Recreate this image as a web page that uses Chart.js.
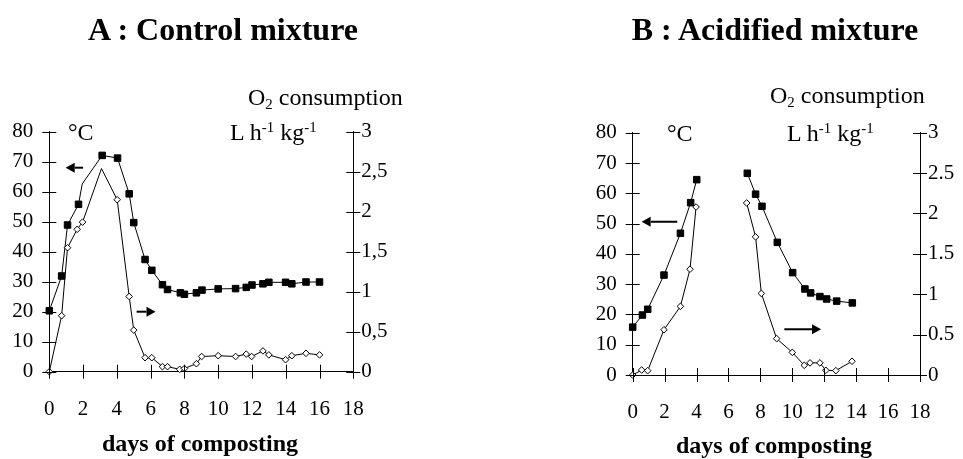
<!DOCTYPE html>
<html>
<head>
<meta charset="utf-8">
<script src="https://cdn.jsdelivr.net/npm/chart.js@4/dist/chart.umd.min.js"></script>
<style>
  html, body { margin:0; padding:0; background:#fff; }
  body { width:963px; height:459px; position:relative; overflow:hidden; font-family:"Liberation Serif","Times New Roman",serif; color:#000; }
  .pane { position:absolute; top:0; }
  .t { position:absolute; line-height:1; white-space:nowrap; }
  .c { text-align:center; width:400px; }
  .b { font-weight:bold; }
  sup, sub { font-size:0.62em; line-height:0; position:relative; vertical-align:baseline; }
  sup { top:-0.55em; }
  sub { top:0.3em; }
</style>
</head>
<body>
<div class="pane" style="left:0;width:480px;height:459px"><canvas id="cA" width="480" height="459"></canvas></div>
<div class="pane" style="left:480px;width:483px;height:459px"><canvas id="cB" width="483" height="459"></canvas></div>

<div class="t c b" style="left:23px;top:13px;font-size:32px">A : Control mixture</div>
<div class="t c b" style="left:575px;top:13px;font-size:32px">B : Acidified mixture</div>

<div class="t" style="left:248px;top:85px;font-size:24px">O<sub>2</sub> consumption</div>
<div class="t" style="left:230px;top:120px;font-size:24px">L h<sup>-1</sup> kg<sup>-1</sup></div>
<div class="t" style="left:68px;top:120px;font-size:24px">°C</div>

<div class="t" style="left:770px;top:83px;font-size:24px">O<sub>2</sub> consumption</div>
<div class="t" style="left:787px;top:121px;font-size:24px">L h<sup>-1</sup> kg<sup>-1</sup></div>
<div class="t" style="left:667px;top:121px;font-size:24px">°C</div>

<div class="t c b" style="left:0px;top:431px;font-size:24px">days of composting</div>
<div class="t c b" style="left:574px;top:433px;font-size:24px">days of composting</div>

<script>
// ---------- DATA ----------
const dayTicks = [0, 2, 4, 6, 8, 10, 12, 14, 16, 18];
const tempTicks = [0, 10, 20, 30, 40, 50, 60, 70, 80];
const o2Ticks = [0, 0.5, 1, 1.5, 2, 2.5, 3];
const o2TickLabelsA = ['0', '0,5', '1', '1,5', '2', '2,5', '3'];
const o2TickLabelsB = ['0', '0.5', '1', '1.5', '2', '2.5', '3'];

// Panel A : Control mixture
const tempDaysA = [0, 0.73, 1.08, 1.73, 1.95, 3.13, 4.04, 4.73, 5.0, 5.67, 6.07, 6.70, 7.0, 7.76, 8.0, 8.71, 9.04, 10.0, 11.03, 11.66, 12.0, 12.65, 13.0, 13.99, 14.36, 15.2, 16.0];
const tempA = [20.3, 31.9, 48.9, 55.8, 62.6, 72.1, 71.2, 59.3, 49.7, 37.4, 33.8, 29.0, 27.4, 26.3, 25.8, 26.3, 27.2, 27.6, 27.7, 28.1, 28.9, 29.3, 29.8, 29.8, 29.3, 29.9, 29.9];
const o2DaysA = [0, 0.73, 1.08, 1.65, 1.97, 3.09, 4.02, 4.73, 5.0, 5.67, 6.07, 6.70, 7.0, 7.72, 8.0, 8.71, 9.02, 10.0, 11.03, 11.66, 11.98, 12.65, 13.0, 13.99, 14.36, 15.2, 16.0];
const o2A = [0, 0.70, 1.55, 1.78, 1.87, 2.54, 2.15, 0.94, 0.52, 0.175, 0.175, 0.063, 0.063, 0.03, 0.04, 0.10, 0.19, 0.20, 0.19, 0.22, 0.19, 0.26, 0.21, 0.15, 0.20, 0.23, 0.21];
const unmarkedTempA = [4];
const unmarkedO2A = [5];

// Panel B : Acidified mixture (null = gap in measurements)
const tempDaysB = [0, 0.61, 0.94, 1.96, 2.99, 3.63, 4.01, 5.5, 7.18, 7.70, 8.10, 9.06, 10.02, 10.79, 11.15, 11.73, 12.15, 12.78, 13.76];
const tempB = [15.8, 19.8, 21.7, 33.0, 46.8, 56.9, 64.5, null, 66.6, 59.7, 55.7, 43.8, 33.8, 28.4, 27.1, 25.9, 25.1, 24.4, 23.8];
const o2DaysB = [0, 0.56, 0.94, 1.96, 2.99, 3.59, 3.97, 5.5, 7.14, 7.70, 8.06, 9.02, 10.0, 10.75, 11.11, 11.73, 12.1, 12.73, 13.74];
const o2B = [0, 0.062, 0.054, 0.56, 0.85, 1.31, 2.08, null, 2.13, 1.71, 1.01, 0.45, 0.28, 0.12, 0.15, 0.15, 0.058, 0.054, 0.17];

// Arrow annotations (data units: day, °C)
const arrowsA = [
  { from: [2.0, 68], to: [0.97, 68] },
  { from: [5.17, 20], to: [6.29, 20] }
];
const arrowsB = [
  { from: [2.79, 50.6], to: [0.56, 50.6] },
  { from: [9.5, 15.1], to: [11.8, 15.1] }
];

// ---------- DRAWING ----------
const FONT = "'Liberation Serif', 'Times New Roman', serif";

function pts(xs, ys) { return xs.map((x, i) => ({ x: x, y: ys[i] })); }

const crossTicks = {
  id: 'crossTicks',
  afterDraw(chart) {
    const ctx = chart.ctx, a = chart.chartArea, L = 7;
    ctx.save();
    ctx.strokeStyle = '#000';
    ctx.lineWidth = 1;
    ctx.beginPath();
    const sx = chart.scales.x;
    sx.ticks.forEach(t => {
      const p = Math.round(sx.getPixelForValue(t.value)) + 0.5;
      ctx.moveTo(p, a.bottom - L); ctx.lineTo(p, a.bottom + L);
    });
    const yl = chart.scales.yT;
    yl.ticks.forEach(t => {
      const p = Math.round(yl.getPixelForValue(t.value)) + 0.5;
      ctx.moveTo(a.left - L, p); ctx.lineTo(a.left + L, p);
    });
    const yr = chart.scales.yO;
    yr.ticks.forEach(t => {
      const p = Math.round(yr.getPixelForValue(t.value)) + 0.5;
      ctx.moveTo(a.right - L, p); ctx.lineTo(a.right + L, p);
    });
    ctx.stroke();
    // arrows
    const arrows = chart.options.plugins.crossTicks.arrows || [];
    ctx.fillStyle = '#000';
    ctx.lineWidth = 2;
    arrows.forEach(ar => {
      const x1 = sx.getPixelForValue(ar.from[0]), x2 = sx.getPixelForValue(ar.to[0]);
      const y = yl.getPixelForValue(ar.from[1]);
      const dir = x2 > x1 ? 1 : -1, head = 9, hh = 5;
      ctx.beginPath();
      ctx.moveTo(x1, y); ctx.lineTo(x2 - dir * head, y);
      ctx.stroke();
      ctx.beginPath();
      ctx.moveTo(x2, y);
      ctx.lineTo(x2 - dir * head, y - hh);
      ctx.lineTo(x2 - dir * head, y + hh);
      ctx.closePath();
      ctx.fill();
    });
    ctx.restore();
  }
};

function makePanel(id, opt) {
  const tempData = pts(opt.tDays, opt.temp);
  const o2Data = pts(opt.oDays, opt.o2);
  return new Chart(document.getElementById(id), {
    type: 'scatter',
    data: {
      datasets: [
        {
          data: o2Data, yAxisID: 'yO', showLine: true, spanGaps: false,
          borderColor: '#000', borderWidth: 1,
          pointStyle: 'rectRot', pointBackgroundColor: '#fff', pointBorderColor: '#000', pointBorderWidth: 1,
          pointRadius: c => opt.unmarkedO2.includes(c.dataIndex) ? 0 : 3.3,
          clip: false
        },
        {
          data: tempData, yAxisID: 'yT', showLine: true, spanGaps: false,
          borderColor: '#000', borderWidth: 1,
          pointStyle: 'rect', pointBackgroundColor: '#000', pointBorderColor: '#000', pointBorderWidth: 1,
          pointRadius: c => opt.unmarkedT.includes(c.dataIndex) ? 0 : 4.6,
          clip: false
        }
      ]
    },
    options: {
      responsive: false,
      animation: false,
      devicePixelRatio: 1,
      layout: { padding: { top: opt.top, left: 0, right: 0, bottom: 0 } },
      plugins: { legend: { display: false }, tooltip: { enabled: false }, crossTicks: { arrows: opt.arrows } },
      scales: {
        x: {
          type: 'linear', min: 0, max: 18,
          afterBuildTicks: s => { s.ticks = dayTicks.map(v => ({ value: v })); },
          afterFit: s => { s.height = opt.xH; },
          grid: { display: false, drawTicks: false },
          border: { display: true, color: '#000', width: 1 },
          ticks: { color: '#000', font: { family: FONT, size: 21 }, padding: 25, maxRotation: 0, autoSkip: false }
        },
        yT: {
          type: 'linear', position: 'left', min: 0, max: 80,
          afterBuildTicks: s => { s.ticks = tempTicks.map(v => ({ value: v })); },
          afterFit: s => { s.width = opt.leftW; },
          grid: { display: false, drawTicks: false },
          border: { display: true, color: '#000', width: 1 },
          ticks: { color: '#000', font: { family: FONT, size: 21 }, padding: 16, autoSkip: false }
        },
        yO: {
          type: 'linear', position: 'right', min: 0, max: 3,
          afterBuildTicks: s => { s.ticks = o2Ticks.map(v => ({ value: v })); },
          afterFit: s => { s.width = opt.rightW; },
          grid: { display: false, drawTicks: false },
          border: { display: true, color: '#000', width: 1 },
          ticks: { color: '#000', font: { family: FONT, size: 21 }, padding: 8, autoSkip: false,
                   callback: (v, i) => opt.o2Labels[i] }
        }
      }
    },
    plugins: [crossTicks]
  });
}

makePanel('cA', {
  tDays: tempDaysA, temp: tempA, oDays: o2DaysA, o2: o2A,
  unmarkedT: unmarkedTempA, unmarkedO2: unmarkedO2A,
  arrows: arrowsA, o2Labels: o2TickLabelsA,
  top: 131.7, xH: 459 - 371.7, leftW: 49.3, rightW: 480 - 353.3
});
makePanel('cB', {
  tDays: tempDaysB, temp: tempB, oDays: o2DaysB, o2: o2B,
  unmarkedT: [], unmarkedO2: [],
  arrows: arrowsB, o2Labels: o2TickLabelsB,
  top: 132.7, xH: 459 - 375, leftW: 632.7 - 480, rightW: 963 - 920
});
</script>
</body>
</html>
